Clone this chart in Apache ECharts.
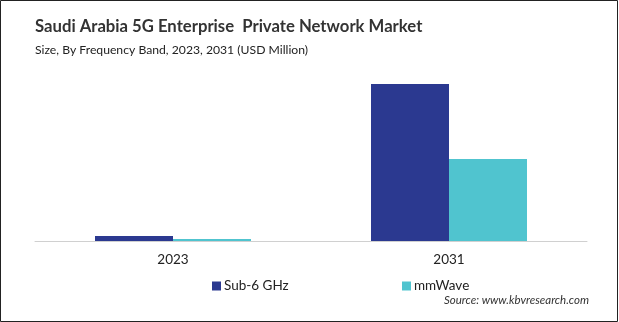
<!DOCTYPE html>
<html><head><meta charset="utf-8">
<script src="https://cdn.jsdelivr.net/npm/echarts@6/dist/echarts.min.js"></script>
<style>html,body{margin:0;padding:0;background:#fff}#c{width:619px;height:322px}</style>
</head><body><div id="c"></div>
<script>
const categories = ['2023', '2031'];
const seriesNames = ['Sub-6 GHz', 'mmWave'];
const sub6 = [10.5, 329.2];
const mmWave = [4.2, 172.0];
const titleText = 'Saudi Arabia 5G Enterprise  Private Network Market';
const subtitleText = 'Size, By Frequency Band, 2023, 2031 (USD Million)';
const sourceText = 'Source: www.kbvresearch.com';

const font = 'Lato, "Open Sans", sans-serif';
const chart = echarts.init(document.getElementById('c'));
chart.setOption({
  animation: false,
  title: [
    {text: titleText, left: 30, top: 13, textStyle: {fontFamily: font, fontSize: 16.7, fontWeight: 'bold', color: '#333'}},
    {text: subtitleText, left: 30, top: 39, textStyle: {fontFamily: font, fontSize: 12.2, fontWeight: 'normal', color: '#222'}}
  ],
  legend: [
    {data: [seriesNames[0]], left: 207, top: 274, itemWidth: 9, itemHeight: 9, itemGap: 4, icon: 'rect',
     textStyle: {fontFamily: font, fontSize: 13.5, color: '#222', padding: [0,0,0,-2]}},
    {data: [seriesNames[1]], left: 397, top: 274, itemWidth: 9, itemHeight: 9, itemGap: 4, icon: 'rect',
     textStyle: {fontFamily: font, fontSize: 13.5, color: '#222', padding: [0,0,0,-2]}}
  ],
  grid: {left: 35, right: 32, top: 84, bottom: 81},
  xAxis: {type: 'category', data: categories,
    axisLine: {lineStyle: {color: '#d0d0d0', width: 1}}, axisTick: {show: false},
    axisLabel: {fontFamily: font, fontSize: 13.5, color: '#222', margin: 12}},
  yAxis: {type: 'value', min: 0, max: 'dataMax', show: false, splitLine: {show: false}},
  series: [
    {name: seriesNames[0], type: 'bar', data: sub6, barWidth: 78, barGap: '0%', itemStyle: {color: '#2b3990'}},
    {name: seriesNames[1], type: 'bar', data: mmWave, barWidth: 78, barGap: '0%', itemStyle: {color: '#50c4cf'}}
  ],
  graphic: [
    {type: 'text', right: 30, top: 294, style: {text: sourceText, font: 'italic 11.5px ' + font, fill: '#333'}},
    {type: 'rect', shape: {x: 0.5, y: 0.5, width: 617, height: 321}, style: {fill: 'none', stroke: '#222', lineWidth: 1}, silent: true}
  ]
});
</script></body></html>
